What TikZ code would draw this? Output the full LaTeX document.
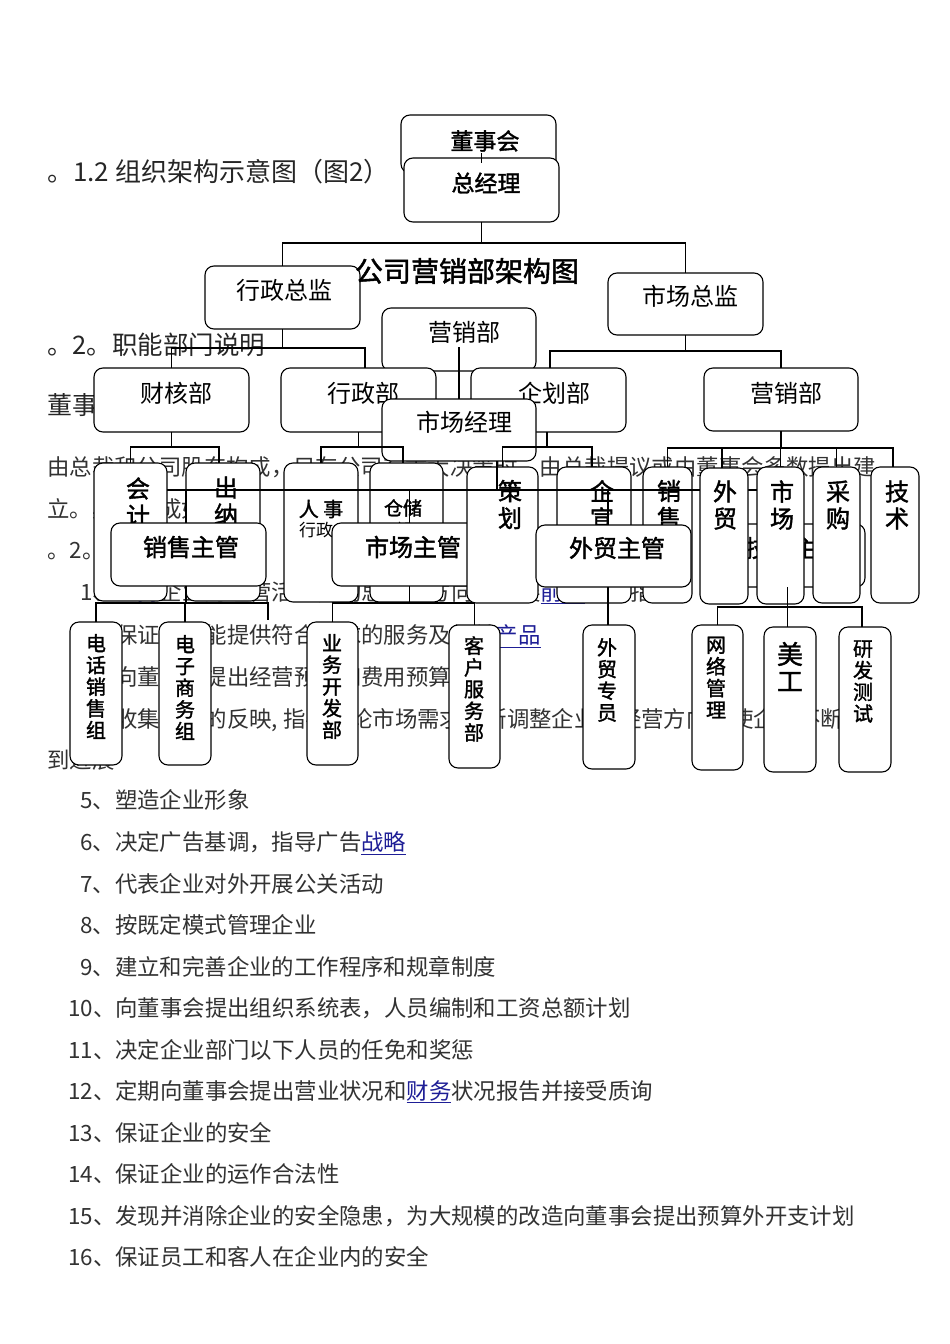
\documentclass[tikz,border=0pt]{standalone}
\usepackage{fontspec}
\setmainfont{Noto Sans CJK SC}
\newfontfamily\mbf{Noto Sans CJK SC}[FakeBold=1.6]
\definecolor{linkblue}{RGB}{30,30,150}
\definecolor{bodytxt}{RGB}{50,50,50}
\newcommand\bxn[5]{\node[bx,minimum width=#4pt,minimum height=#5pt] (#1) at (#2,#3) {};}
\newcommand\lnk[1]{\textcolor{linkblue}{\underline{#1}}}
\begin{document}
\begin{tikzpicture}[x=1pt,y=-1pt,
 bx/.style={draw=black,fill=white,rounded corners=9pt,line width=1.1pt,inner sep=0pt,outer sep=0pt},
 ln/.style={line width=1.1pt},
 body/.style={anchor=west,inner sep=0pt,text=bodytxt,text height=19.7pt,text depth=2.7pt,font=\fontsize{22.4}{22.4}\selectfont},
 lab/.style={inner sep=0pt,align=center,text=black,font=\fontsize{24}{27}\selectfont},
 blab/.style={lab,font=\mbf\fontsize{24}{27}\selectfont},
 vlab/.style={lab,font=\mbf\fontsize{20}{21.7}\selectfont}]
\fill[white] (0,0) rectangle (950,1344);
\useasboundingbox (0,0) rectangle (950,1344);

% ---------- body text ----------
\node[body,text=black!85,font=\fontsize{26}{26}\selectfont] (h1) at (47,173) {。1.2 组织架构示意图（图2）};
\node[body,text=black!85,font=\fontsize{25.5}{25.5}\selectfont] (h2) at (47,346) {。2。职能部门说明};
\node[body,text=black!85,font=\fontsize{25}{25}\selectfont] (h3) at (47,406) {董事会：};
\node[body] (pa) at (47,467) {由总裁和公司股东构成，只有公司有重大决策时，由总裁提议或由董事会多数提出建};
\node[body] (pb) at (47,509) {立。具体组成如下：};
\node[body] (pc) at (47,550) {。2。 总经理职责};
\node[body] (p1) at (80,592) {1、\lnk{主持}企业的经营活动，构思企业方向和发展\lnk{前景}，并指导};
\node[body] (p2) at (80,635) {2、保证企业能提供符合要求的服务及相关\lnk{产品}};
\node[body] (p3) at (80,677) {3、向董事会提出经营预算和费用预算};
\node[body] (p4) at (80,719) {4、收集各方的反映\makebox[11.2pt][l]{,}指导讨论市场需求不断调整企业的经营方向，使企业不断得};
\node[body] (p4b) at (47,760) {到进展};
\node[body] (p5) at (80,800) {5、塑造企业形象};
\node[body] (p6) at (80,842) {6、决定广告基调，指导广告\lnk{战略}};
\node[body] (p7) at (80,884) {7、代表企业对外开展公关活动};
\node[body] (p8) at (80,925) {8、按既定模式管理企业};
\node[body] (p9) at (80,967) {9、建立和完善企业的工作程序和规章制度};
\node[body] (p10) at (68,1008) {10、向董事会提出组织系统表，人员编制和工资总额计划};
\node[body] (p11) at (68,1050) {11、决定企业部门以下人员的任免和奖惩};
\node[body] (p12) at (68,1091) {12、定期向董事会提出营业状况和\lnk{财务}状况报告并接受质询};
\node[body] (p13) at (68,1133) {13、保证企业的安全};
\node[body] (p14) at (68,1174) {14、保证企业的运作合法性};
\node[body] (p15) at (68,1216) {15、发现并消除企业的安全隐患，为大规模的改造向董事会提出预算外开支计划};
\node[body] (p16) at (68,1257) {16、保证员工和客人在企业内的安全};

% ---------- top levels ----------
\bxn{dsh}{478.5}{144}{155}{58}
\node[lab,font=\mbf\fontsize{23}{23}\selectfont] (tdsh) at (485,141) {董事会};
\bxn{zjl}{481.5}{190}{155}{64}
\node[lab,font=\mbf\fontsize{23}{23}\selectfont] (tzjl) at (486,183) {总经理};
\draw[ln] ([xshift=3pt,yshift=-9pt]dsh.center) -- ([yshift=-5pt]zjl.north);

\bxn{xzzj}{282.5}{297.5}{155}{63}
\bxn{sczj}{685.5}{304}{155}{62}
\draw[ln] (zjl.south) -- ++(0,21) coordinate (j0);
\draw[ln] (xzzj.north) |- (j0) -| (sczj.north);
\node[lab,font=\mbf\fontsize{28}{28}\selectfont] (title) at (467,271) {公司营销部架构图};
\node[lab] (txzzj) at (284,290) {行政总监};
\node[lab] (tsczj) at (690,296) {市场总监};

\bxn{yxb1}{459}{339.5}{154}{63}
\node[lab] (tyxb1) at (464,332) {营销部};
\bxn{chb}{171.5}{400}{155}{64}
\node[lab] (tchb) at (176,393) {财核部};
\bxn{xzb}{358.5}{400}{155}{64}
\node[lab] (txzb) at (363,393) {行政部};
\bxn{qhb}{548.5}{400}{155}{64}
\node[lab] (tqhb) at (554,393) {企划部};
\bxn{yxb2}{781}{399.5}{154}{63}
\node[lab] (tyxb2) at (786,393) {营销部};
\draw[ln] (xzzj.south) -- ++(0,19) coordinate (j1);
\draw[ln] (chb.north) |- (j1) -| ([xshift=6.5pt]xzb.north);
\draw[ln] (sczj.south) -- ++(0,16) coordinate (j2);
\draw[ln] ([xshift=1.5pt]qhb.north) |- (j2) -| (yxb2.north);
\bxn{scjl}{459}{430}{154}{62}
\node[lab] (tscjl) at (464,422) {市场经理};
\draw[ln] ([yshift=-7.5pt]yxb1.center) -- (scjl.north);

% ---------- row 1 / row 2 ----------
\bxn{jszg}{787.5}{555.5}{155}{63}
\node[blab] (tjszg) at (793,548) {技术主管};
\bxn{kj}{130.5}{532}{73}{138}
\node[blab] (tkj) at (138,502) {会\\计};
\bxn{cn}{223}{532}{74}{138}
\node[blab] (tcn) at (226,501) {出\\纳};
\bxn{rs}{321}{532.5}{74}{139}
\node[lab,font=\mbf\fontsize{20}{20}\selectfont] (trs) at (321,509) {人 事};
\node[lab,font=\fontsize{17}{17}\selectfont] (trs2) at (316,530) {行政};
\bxn{cc}{406.5}{532.5}{73}{139}
\node[lab,font=\mbf\fontsize{19}{19}\selectfont] (tcc) at (403,508) {仓储};
\node[lab,font=\fontsize{17}{17}\selectfont] (tcc2) at (403,530) {部};
\bxn{sczg}{409.5}{554.5}{155}{63}
\node[blab] (tsczg) at (413,547) {市场主管};
\bxn{ch}{502.5}{535}{71}{136}
\node[blab] (tch) at (510,504.5) {策\\划};
\bxn{qx}{594}{535}{74}{136}
\node[blab] (tqx) at (602,504.5) {企\\宣};
\bxn{xs}{667.5}{535}{49}{136}
\node[blab] (txs) at (669,504.5) {销\\售};

\draw[ln] ([xshift=38pt]scjl.south) -- ++(0,29) coordinate (j4);
\draw[ln] (kj.east |- j4) -- (jszg.north |- j4);
\draw[ln] (sczg.north) -- (sczg.north |- j4);
\draw[ln] (jszg.north) -- (jszg.north |- j4);

\bxn{wm}{724}{536}{48}{136}
\node[blab] (twm) at (725,505) {外\\贸};
\bxn{sc}{780.5}{535.5}{47}{137}
\node[blab] (tsc) at (782,505) {市\\场};
\bxn{cg}{836.5}{535}{47}{136}
\node[blab] (tcg) at (838,505) {采\\购};
\bxn{js}{895}{535}{48}{136}
\node[blab] (tjs) at (897,505) {技\\术};
\bxn{xszg}{188.5}{554.5}{155}{63}
\node[blab] (txszg) at (191,547) {销售主管};
\bxn{wmzg}{613.5}{556}{155}{62}
\node[blab] (twmzg) at (617,548) {外贸主管};
\draw[ln] ([xshift=-2.5pt]xszg.north) -- ([xshift=-2.5pt]xszg.north |- j4);
\draw[ln] ([xshift=-5.5pt]wmzg.north) -- ([xshift=-5.5pt]wmzg.north |- j4);

% level -> row 1 connectors
\draw[ln] (chb.south) -- ++(0,15) coordinate (j3);
\draw[ln] (kj.north) |- (j3) -| ([xshift=-4pt]cn.north);
\draw[ln] (xzb.south) -- ++(0,15) coordinate (j5);
\draw[ln] (rs.north) |- (j5) -| ([xshift=-3.5pt]cc.north);
\draw[ln] ([xshift=-1.5pt]qhb.south) -- ++(0,15) coordinate (j6);
\draw[ln] (ch.north) |- (j6) -| ([xshift=-2pt]qx.north);
\draw[ln] (yxb2.south) -- ++(0,17) coordinate (j7);
\draw[ln] (xs.north) |- (j7) -| ([xshift=-2pt]js.north);
\draw[ln] ([xshift=-2pt]wm.north) -- ([xshift=-2pt]wm.north |- j7);
\draw[ln] (sc.north) -- (sc.north |- j7);
\draw[ln] (cg.north) -- (cg.north |- j7);

% ---------- row 3 ----------
\draw[ln] ([xshift=-2.5pt]xszg.south) -- ++(0,17) coordinate (j8);
\coordinate (x3) at (268,620);
\draw[ln] (sczg.south) -- ++(0,17) coordinate (j9);
\draw[ln] (jszg.south) -- ++(0,20) coordinate (j10);

\bxn{dh}{96}{693.5}{52}{143}
\bxn{dz}{185}{693.5}{52}{143}
\bxn{yw}{332.5}{693.5}{51}{143}
\bxn{kh}{474.5}{696.5}{51}{143}
\bxn{wmzy}{609}{697}{52}{144}
\bxn{wl}{717.5}{697.5}{51}{145}
\bxn{mg}{790}{699.5}{52}{145}
\bxn{yf}{865}{699.5}{52}{145}

\draw[ln] (dh.north) |- (j8) -| (x3);
\draw[ln] (dz.north) -- (dz.north |- j8);
\draw[ln] (yw.north) |- (j9) -| (kh.north);
\draw[ln] ([xshift=-5.5pt]wmzg.south) -- ([xshift=-1pt]wmzy.north);
\draw[ln] (wl.north) |- (j10) -| ([xshift=-3pt]yf.north);
\draw[ln] (j10) -- (j10 |- mg.north);

\node[vlab] (tdh) at (96,686.5) {电\\话\\销\\售\\组};
\node[vlab] (tdz) at (185,687.5) {电\\子\\商\\务\\组};
\node[vlab] (tyw) at (332,686.5) {业\\务\\开\\发\\部};
\node[vlab] (tkh) at (474,689) {客\\户\\服\\务\\部};
\node[vlab] (twmzy) at (607,680) {外\\贸\\专\\员};
\node[vlab] (twl) at (716,677.5) {网\\络\\管\\理};
\node[lab,font=\mbf\fontsize{26}{27}\selectfont] (tmg) at (790,666.5) {美\\工};
\node[vlab] (tyf) at (863,681.5) {研\\发\\测\\试};
\end{tikzpicture}
\end{document}
